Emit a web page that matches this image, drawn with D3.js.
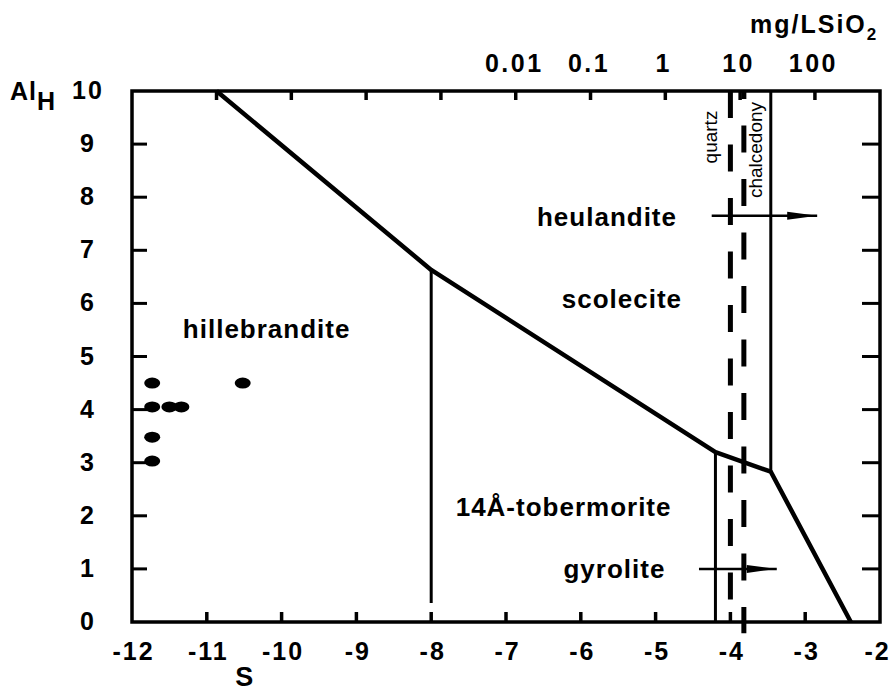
<!DOCTYPE html>
<html>
<head>
<meta charset="utf-8">
<script src="https://cdn.jsdelivr.net/npm/d3@7/dist/d3.min.js"></script>
<style>
  html, body { margin: 0; padding: 0; background: #fff; }
  svg { display: block; }
  text { font-family: "Liberation Sans", Arial, Helvetica, sans-serif; font-weight: bold; fill: #000; }
</style>
</head>
<body>
<svg id="chart" width="893" height="692"></svg>
<script>
// Axis ticks
const sTicks = [-12, -11, -10, -9, -8, -7, -6, -5, -4, -3, -2];
const alTicks = [0, 1, 2, 3, 4, 5, 6, 7, 8, 9, 10];
const mgTicks = [1e-6, 1e-5, 1e-4, 1e-3, 1e-2, 1e-1, 1, 10, 100];
const mgLabelValues = [0.01, 0.1, 1, 10, 100];
const mgLabelTexts = ["0.01", "0.1", "1", "10", "100"];

// Main phase boundary (S, AlH)
const boundaryS = [-10.87, -8, -4.2, -3.46, -2.39];
const boundaryAl = [10, 6.63, 3.2, 2.83, 0];

// Vertical phase boundaries (S, lower AlH, upper AlH)
const vertS = [-8, -4.2, -3.46];
const vertLo = [0.36, 0, 2.83];
const vertHi = [6.63, 3.2, 10];

// Silica saturation lines
const silicaNames = ["quartz", "chalcedony"];
const silicaS = [-4.0, -3.82];
const silicaLo = [0, -0.21];
const silicaHi = [10, 10];

// Measured compositions
const pointS = [-11.73, -10.52, -11.73, -11.5, -11.34, -11.73, -11.73];
const pointAl = [4.5, 4.5, 4.05, 4.05, 4.05, 3.48, 3.03];

// Arrows (start S, end S, AlH)
const arrowS0 = [-4.25, -4.42];
const arrowS1 = [-2.84, -3.38];
const arrowAl = [7.65, 1.0];

// Phase field labels
const fieldNames = ["hillebrandite", "heulandite", "scolecite", "14Å-tobermorite", "gyrolite"];
const fieldS = [-10.2, -5.65, -5.45, -6.23, -5.55];
const fieldAl = [5.52, 7.63, 6.08, 2.17, 1.0];

const svg = d3.select("#chart");
const x = d3.scaleLinear().domain([-12, -2]).range([132, 880]);
const y = d3.scaleLinear().domain([0, 10]).range([622, 91]);
const xTop = d3.scaleLog().domain([Math.pow(10, -7.13), Math.pow(10, 2.87)]).range([132, 880]);

const tickFont = sel => sel
  .attr("font-size", 25)
  .style("font-family", "Liberation Sans, Arial, sans-serif")
  .style("font-weight", "bold")
  .style("letter-spacing", "2px");

// Frame
svg.append("rect")
  .attr("x", x(-12)).attr("y", y(10))
  .attr("width", x(-2) - x(-12)).attr("height", y(0) - y(10))
  .attr("fill", "none").attr("stroke", "#000").attr("stroke-width", 3.5);

// Bottom axis
const bottomAxis = svg.append("g").attr("transform", `translate(1,${y(0)})`)
  .call(d3.axisBottom(x).tickValues(sTicks).tickSize(0).tickPadding(20).tickFormat(d => String(d)));
bottomAxis.select(".domain").remove();
bottomAxis.selectAll("text").call(tickFont)
  .attr("dx", d => d === -2 ? -4 : 0);
svg.append("g").selectAll("line").data(sTicks.slice(1, -1)).join("line")
  .attr("x1", d => x(d)).attr("x2", d => x(d))
  .attr("y1", y(0)).attr("y2", y(0) - 10)
  .attr("stroke", "#000").attr("stroke-width", 3.5);

// Left axis
const leftAxis = svg.append("g").attr("transform", `translate(88,0)`)
  .call(d3.axisLeft(y).tickValues(alTicks).tickSize(0).tickPadding(0).tickFormat(d => String(d)));
leftAxis.select(".domain").remove();
leftAxis.selectAll("text").call(tickFont).attr("text-anchor", "middle").attr("dy", "0.3em");
svg.append("g").selectAll("line").data(alTicks.slice(1, -1)).join("line")
  .attr("x1", x(-12)).attr("x2", x(-12) + 15)
  .attr("y1", d => y(d)).attr("y2", d => y(d))
  .attr("stroke", "#000").attr("stroke-width", 3);
svg.append("g").selectAll("line").data(alTicks.slice(1, -1)).join("line")
  .attr("x1", x(-2)).attr("x2", x(-2) - 18)
  .attr("y1", d => y(d)).attr("y2", d => y(d))
  .attr("stroke", "#000").attr("stroke-width", 3);

// Top axis (dissolved silica, log scale)
const topAxis = svg.append("g").attr("transform", `translate(-2,${y(10)})`)
  .call(d3.axisTop(xTop).tickValues(mgLabelValues).tickSize(0).tickPadding(19)
    .tickFormat((d, i) => mgLabelTexts[i]));
topAxis.select(".domain").remove();
topAxis.selectAll("text").call(tickFont).style("letter-spacing", "2.5px");
svg.append("g").selectAll("line").data(mgTicks).join("line")
  .attr("x1", d => xTop(d)).attr("x2", d => xTop(d))
  .attr("y1", y(10)).attr("y2", y(10) + 9)
  .attr("stroke", "#000").attr("stroke-width", 3.5);

// Axis titles
const alT = svg.append("text").attr("x", 10).attr("y", 100).attr("font-size", 25).style("letter-spacing", "1px");
alT.append("tspan").text("Al");
alT.append("tspan").attr("font-size", 25).attr("dy", 10).text("H");
svg.append("text").attr("x", x(-10.5)).attr("y", 686).attr("text-anchor", "middle").attr("font-size", 27).text("S");
const mgT = svg.append("text").attr("x", 750).attr("y", 33).attr("font-size", 25).style("letter-spacing", "2px");
mgT.append("tspan").text("mg/LSiO");
mgT.append("tspan").attr("font-size", 17).attr("dy", 7).text("2");

// Vertical boundaries
svg.append("g").selectAll("line").data(vertS).join("line")
  .attr("x1", d => x(d)).attr("x2", d => x(d))
  .attr("y1", (d, i) => y(vertLo[i])).attr("y2", (d, i) => y(vertHi[i]))
  .attr("stroke", "#000").attr("stroke-width", 3);

// Silica saturation lines
const dashOffsets = [0, 19];
svg.append("g").selectAll("line").data(silicaS).join("line")
  .attr("x1", d => x(d)).attr("x2", d => x(d))
  .attr("y1", (d, i) => y(silicaHi[i])).attr("y2", (d, i) => y(silicaLo[i]))
  .attr("stroke", "#000").attr("stroke-width", 5)
  .attr("stroke-dasharray", "27,26.5")
  .attr("stroke-dashoffset", (d, i) => dashOffsets[i]);
svg.append("g").selectAll("text").data(silicaNames).join("text")
  .attr("transform", (d, i) => `translate(${x(silicaS[i]) + (i === 0 ? -13 : 18)},${i === 0 ? 137 : 150}) rotate(-90)`)
  .attr("text-anchor", "middle")
  .attr("font-size", 19).style("font-weight", "normal")
  .text(d => d);

// Main boundary curve
const line = d3.line().x(d => x(d[0])).y(d => y(d[1]));
svg.append("path")
  .datum(boundaryS.map((s, i) => [s, boundaryAl[i]]))
  .attr("d", line)
  .attr("fill", "none").attr("stroke", "#000").attr("stroke-width", 4.5)
  .attr("stroke-linejoin", "round");

// Arrows
svg.append("defs").append("marker")
  .attr("id", "head").attr("viewBox", "0 0 30 10")
  .attr("refX", 30).attr("refY", 5)
  .attr("markerUnits", "userSpaceOnUse")
  .attr("markerWidth", 31).attr("markerHeight", 10)
  .attr("orient", "auto")
  .append("path").attr("d", "M0,1 L30,5 L0,9 Z").attr("fill", "#000");
svg.append("g").selectAll("line").data(arrowAl).join("line")
  .attr("x1", (d, i) => x(arrowS0[i])).attr("x2", (d, i) => x(arrowS1[i]))
  .attr("y1", d => y(d)).attr("y2", d => y(d))
  .attr("stroke", "#000").attr("stroke-width", 2.5)
  .attr("marker-end", "url(#head)");

// Data points
svg.append("g").selectAll("ellipse").data(pointS).join("ellipse")
  .attr("cx", d => x(d)).attr("cy", (d, i) => y(pointAl[i]))
  .attr("rx", 8).attr("ry", 5.5).attr("fill", "#000");

// Field labels
svg.append("g").selectAll("text").data(fieldNames).join("text")
  .attr("x", (d, i) => x(fieldS[i])).attr("y", (d, i) => y(fieldAl[i]))
  .attr("dy", "0.35em").attr("text-anchor", "middle")
  .attr("font-size", 26).style("letter-spacing", "1px")
  .text(d => d);
</script>
</body>
</html>
